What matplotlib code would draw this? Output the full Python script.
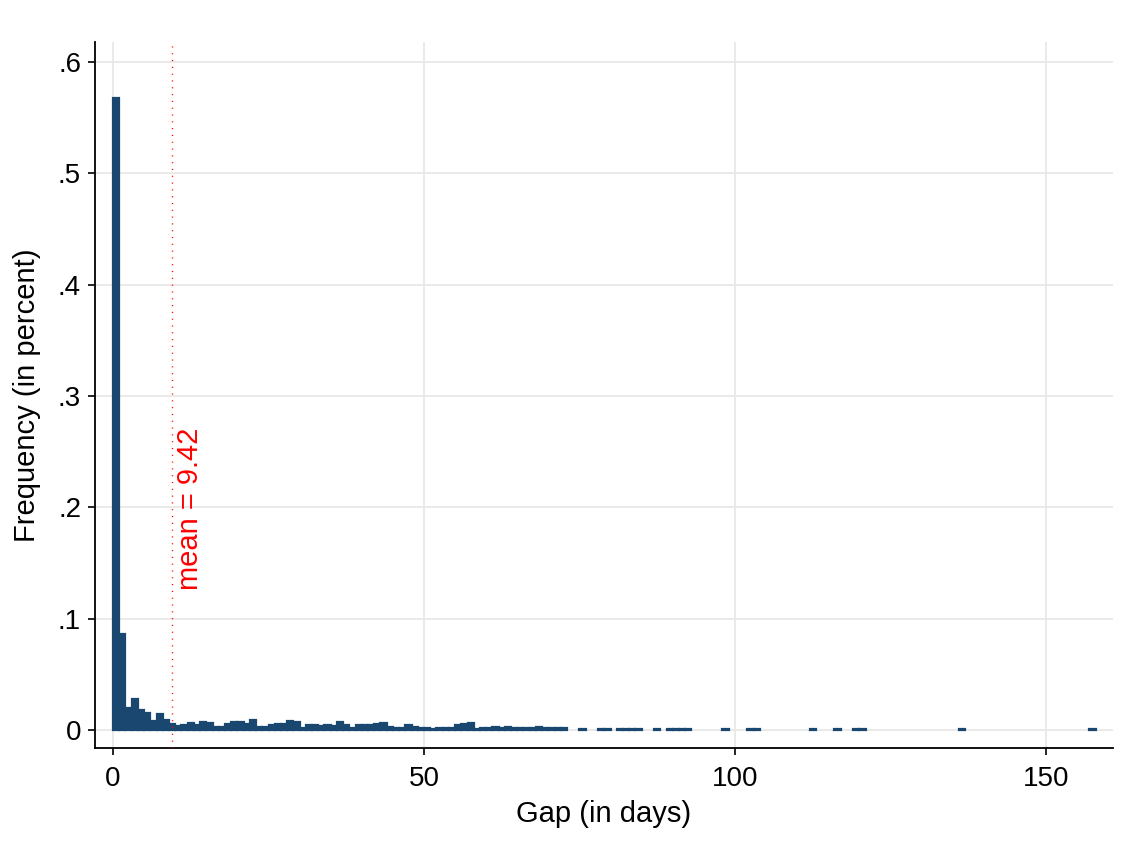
import numpy as np
import matplotlib
matplotlib.use('Agg')
import matplotlib.pyplot as plt

plt.rcParams['font.family'] = ['Liberation Sans', 'DejaVu Sans']

# histogram bins (left edge, in days) and their frequencies
gap_start = list(range(0, 73)) + [75, 78, 79, 81, 82, 83, 84, 87, 89, 90, 91, 92,
                                  98, 102, 103, 112, 116, 119, 120, 136, 157]
freq = [0.568, 0.086, 0.0195, 0.028, 0.018, 0.015, 0.0084, 0.0144, 0.009, 0.0054,
        0.0036, 0.0045, 0.0066, 0.0048, 0.0075, 0.0066, 0.003, 0.003, 0.0054, 0.0072,
        0.0072, 0.0054, 0.009, 0.0024, 0.003, 0.004, 0.005, 0.005, 0.008, 0.007,
        0.002, 0.0045, 0.004, 0.0033, 0.0045, 0.0033, 0.007, 0.004, 0.002, 0.0045,
        0.004, 0.004, 0.005, 0.006, 0.003, 0.0015, 0.002, 0.0045, 0.003, 0.002,
        0.0015, 0.001, 0.0015, 0.0015, 0.002, 0.0045, 0.005, 0.006, 0.001, 0.002,
        0.002, 0.003, 0.0015, 0.0025, 0.002, 0.0015, 0.0015, 0.0015, 0.003, 0.002,
        0.0015, 0.0015, 0.0015] + [0.001] * 21
mean_gap = 9.42

xticks = [0, 50, 100, 150]
yticks = [0, 0.1, 0.2, 0.3, 0.4, 0.5, 0.6]
ytick_labels = ['0', '.1', '.2', '.3', '.4', '.5', '.6']

navy = '#1a476f'

fig = plt.figure(figsize=(11.31, 8.56), dpi=100)
ax = fig.add_axes([0.084, 0.1262, 0.9001, 0.8248])

ax.bar(gap_start, freq, width=1, align='edge', color=navy, edgecolor=navy,
       linewidth=1.6, zorder=3)

ax.axvline(mean_gap, color='red', linestyle=(0, (0.8, 4.1)), linewidth=1.0, zorder=4)
ax.text(12.4, 0.126, 'mean = ' + str(mean_gap), rotation=90, color='red',
        ha='center', va='bottom', fontsize=21)

ax.set_xlim(-2.9, 160.8)
ax.set_ylim(-0.0162, 0.618)
ax.set_xticks(xticks)
ax.set_yticks(yticks)
ax.set_yticklabels(ytick_labels)
ax.tick_params(axis='both', labelsize=20, length=5, width=1.2, direction='out')
ax.tick_params(axis='x', pad=8)
ax.tick_params(axis='y', pad=5)

ax.grid(True, color='#e8e8e8', linewidth=1.3, zorder=0)
ax.set_axisbelow(True)
for s in ['top', 'right']:
    ax.spines[s].set_visible(False)
for s in ['left', 'bottom']:
    ax.spines[s].set_linewidth(1.3)

ax.set_xlabel('Gap (in days)', fontsize=21, labelpad=6)
ax.set_ylabel('Frequency (in percent)', fontsize=21, labelpad=12)

plt.savefig('out.png', dpi=100)
